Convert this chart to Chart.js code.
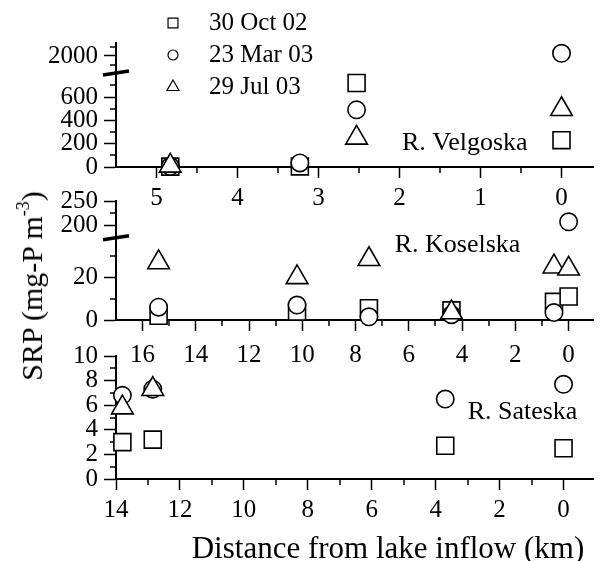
<!DOCTYPE html>
<html>
<head>
<meta charset="utf-8">
<script src="https://cdn.jsdelivr.net/npm/chart.js"></script>
<style>
  html, body { margin: 0; padding: 0; background: #fff; }
  #fig { position: relative; width: 608px; height: 561px; font-family: 'Liberation Serif', 'Times New Roman', serif; color: #000; }
  #fig canvas { position: absolute; left: 0; }
  .axis-title { position: absolute; white-space: nowrap; line-height: 1; }
  #ytitle { left: 32px; top: 286px; font-size: 30px; transform: translate(-50%, -50%) rotate(-90deg); }
  #xtitle { left: 388px; top: 547px; font-size: 31px; transform: translate(-50%, -50%); }
  sup { font-size: 60%; vertical-align: 0.7em; line-height: 0; }
</style>
</head>
<body>
<div id="fig">
  <canvas id="velgoska" width="608" height="215" style="top:0"></canvas>
  <canvas id="koselska" width="608" height="190" style="top:180px"></canvas>
  <canvas id="sateska" width="608" height="226" style="top:335px"></canvas>
  <div class="axis-title" id="ytitle">SRP (mg-P m<sup>-3</sup>)</div>
  <div class="axis-title" id="xtitle">Distance from lake inflow (km)</div>
</div>
<script>
const seriesNames = ['30 Oct 02', '23 Mar 03', '29 Jul 03'];

// R. Velgoska
const velgoskaKm = [4.83, 3.23, 2.53, 0];
const velgoskaOct = [3, 5, 720, 230];
const velgoskaMar = [6, 35, 490, 2030];
const velgoskaJul = [10, null, 250, 495];
const velgoskaXTicks = [5, 4, 3, 2, 1, 0];
const velgoskaXMinor = [4.5, 3.5, 2.5, 1.5, 0.5];
const velgoskaLowTicks = [0, 200, 400, 600];
const velgoskaLowMinor = [100, 300, 500, 700];
const velgoskaHighTicks = [2000];
const velgoskaHighMinor = [1900, 2100];

// R. Koselska
const koselskaKm = [15.4, 10.2, 7.5, 4.4, 0.55, 0];
const koselskaOct = [2, 4, 5.5, 4.5, 8.5, 11];
const koselskaMar = [6, 7, 1.5, 2.5, 3.5, 208];
const koselskaJul = [27, 20, 28.5, 3.5, 25, 24];
const koselskaXTicks = [16, 14, 12, 10, 8, 6, 4, 2, 0];
const koselskaXMinor = [15, 13, 11, 9, 7, 5, 3, 1];
const koselskaLowTicks = [0, 20];
const koselskaLowMinor = [10, 30];
const koselskaHighTicks = [200, 250];
const koselskaHighMinor = [225];

// R. Sateska
const sateskaKm = [13.8, 12.85, 3.7, 0];
const sateskaOct = [3.0, 3.2, 2.7, 2.5];
const sateskaMar = [6.8, 7.3, 6.5, 7.7];
const sateskaJul = [5.8, 7.3, null, null];
const sateskaXTicks = [14, 12, 10, 8, 6, 4, 2, 0];
const sateskaXMinor = [13, 11, 9, 7, 5, 3, 1];
const sateskaYTicks = [0, 2, 4, 6, 8, 10];
const sateskaYMinor = [1, 3, 5, 7, 9];

const FONT = "'Liberation Serif', 'Times New Roman', serif";
const AXIS_LEFT = 116;
const markerStyles = ['rect', 'circle', 'triangle'];
const markerRadii = [12, 8.7, 12.5];

Chart.defaults.font.family = FONT;
Chart.defaults.color = '#000';

// short unlabelled ticks between the numbered ones
const minorTicks = {
  id: 'minorTicks',
  beforeDatasetsDraw(chart, args, opts) {
    const ctx = chart.ctx;
    ctx.save();
    ctx.strokeStyle = '#000';
    ctx.lineWidth = 1.5;
    Object.keys(opts.values || {}).forEach(id => {
      const s = chart.scales[id];
      opts.values[id].forEach(v => {
        const p = Math.round(s.getPixelForValue(v));
        ctx.beginPath();
        if (s.isHorizontal()) {
          ctx.moveTo(p, s.top);
          ctx.lineTo(p, s.top + 6);
        } else {
          ctx.moveTo(s.right, p);
          ctx.lineTo(s.right - 6, p);
        }
        ctx.stroke();
      });
    });
    ctx.restore();
  }
};

// thick slash where the y axis is broken
const axisBreak = {
  id: 'axisBreak',
  afterDatasetsDraw(chart, args, opts) {
    if (!opts.axis) return;
    const s = chart.scales[opts.axis];
    const ctx = chart.ctx;
    ctx.save();
    ctx.strokeStyle = '#000';
    ctx.lineWidth = 3.5;
    ctx.beginPath();
    ctx.moveTo(s.right - 13, s.top + 2);
    ctx.lineTo(s.right + 13, s.top - 2);
    ctx.stroke();
    ctx.restore();
  }
};

// river name written inside the panel
const riverName = {
  id: 'riverName',
  afterDatasetsDraw(chart, args, opts) {
    if (!opts.text) return;
    const ctx = chart.ctx;
    ctx.save();
    ctx.font = '26px ' + FONT;
    ctx.fillStyle = '#000';
    ctx.textAlign = 'left';
    ctx.textBaseline = 'middle';
    ctx.fillText(opts.text, chart.scales.x.getPixelForValue(opts.x), chart.scales[opts.axis].getPixelForValue(opts.y));
    ctx.restore();
  }
};

// symbol key in the top panel
const dateKey = {
  id: 'dateKey',
  afterDraw(chart, args, opts) {
    if (!opts.show) return;
    const ctx = chart.ctx;
    ctx.save();
    ctx.font = '25px ' + FONT;
    ctx.textAlign = 'left';
    ctx.textBaseline = 'middle';
    seriesNames.forEach((name, i) => {
      const y = opts.y + i * opts.gap;
      ctx.fillStyle = '#fff';
      ctx.strokeStyle = '#000';
      ctx.lineWidth = 1.2;
      Chart.helpers.drawPoint(ctx, { pointStyle: markerStyles[i], radius: opts.radii[i], borderWidth: 1.2, rotation: 0 }, opts.x, y);
      ctx.fillStyle = '#000';
      ctx.fillText(name, opts.textX, y);
    });
    ctx.restore();
  }
};

function makeDatasets(km, series, breakAt) {
  const sets = [];
  series.forEach((values, i) => {
    const lo = [], hi = [];
    values.forEach((v, j) => {
      if (v === null) return;
      (breakAt !== undefined && v > breakAt ? hi : lo).push({ x: km[j], y: v });
    });
    const style = {
      label: seriesNames[i],
      pointStyle: markerStyles[i],
      pointRadius: markerRadii[i],
      pointHoverRadius: markerRadii[i],
      pointBorderWidth: 1.6,
      pointBorderColor: '#000',
      pointBackgroundColor: '#fff',
      order: 3 - i,
      clip: false,
    };
    sets.push({ ...style, data: lo, yAxisID: 'yLo' });
    if (hi.length) sets.push({ ...style, data: hi, yAxisID: 'yHi' });
  });
  return sets;
}

function tickFont() {
  return { family: FONT, size: 25 };
}

function xAxis(min, max, major, height, pad) {
  return {
    type: 'linear', reverse: true, min, max,
    afterBuildTicks: s => { s.ticks = major.map(v => ({ value: v })); },
    afterFit: s => { s.height = height; },
    grid: { drawOnChartArea: false, tickLength: 11, tickWidth: 1.5, tickColor: '#000' },
    border: { color: '#000', width: 2 },
    ticks: { color: '#000', font: tickFont(), padding: pad, maxRotation: 0, autoSkip: false, callback: v => String(v) },
  };
}

function yAxis(min, max, major, stackWeight, weight) {
  return {
    type: 'linear', position: 'left', min, max,
    stack: stackWeight ? 'srp' : undefined, stackWeight: stackWeight || 1, weight: weight || 0,
    afterBuildTicks: s => { s.ticks = major.map(v => ({ value: v })); },
    afterFit: s => { s.width = AXIS_LEFT; },
    grid: { drawOnChartArea: false, tickLength: 12, tickWidth: 1.5, tickColor: '#000' },
    border: { color: '#000', width: 2 },
    ticks: { color: '#000', font: tickFont(), padding: 6, autoSkip: false, callback: v => String(v) },
  };
}

function baseOptions(padTop, scales, extra) {
  return {
    responsive: false,
    animation: false,
    layout: { padding: { top: padTop, right: 2, left: 0, bottom: 0 } },
    scales,
    plugins: Object.assign({ legend: { display: false }, tooltip: { enabled: false } }, extra),
  };
}

new Chart(document.getElementById('velgoska'), {
  type: 'scatter',
  data: { datasets: makeDatasets(velgoskaKm, [velgoskaOct, velgoskaMar, velgoskaJul], 806) },
  options: baseOptions(43, {
    x: xAxis(-0.4, 5.5, velgoskaXTicks, 48, 5),
    yHi: yAxis(1810, 2145, velgoskaHighTicks, 30, 1),
    yLo: yAxis(0, 806, velgoskaLowTicks, 94, 0),
  }, {
    minorTicks: { values: { x: velgoskaXMinor, yLo: velgoskaLowMinor, yHi: velgoskaHighMinor } },
    axisBreak: { axis: 'yLo' },
    riverName: { text: 'R. Velgoska', x: 1.97, y: 205, axis: 'yLo' },
    dateKey: { show: true, x: 173, textX: 209, y: 23, gap: 32, radii: [7, 5, 7] },
  }),
  plugins: [minorTicks, axisBreak, riverName, dateKey],
});

new Chart(document.getElementById('koselska'), {
  type: 'scatter',
  data: { datasets: makeDatasets(koselskaKm, [koselskaOct, koselskaMar, koselskaJul], 38.6) },
  options: baseOptions(20, {
    x: xAxis(-0.95, 17, koselskaXTicks, 50, 9),
    yHi: yAxis(176, 250, koselskaHighTicks, 37, 1),
    yLo: yAxis(0, 38.6, koselskaLowTicks, 83, 0),
  }, {
    minorTicks: { values: { x: koselskaXMinor, yLo: koselskaLowMinor, yHi: koselskaHighMinor } },
    axisBreak: { axis: 'yLo' },
    riverName: { text: 'R. Koselska', x: 6.53, y: 35, axis: 'yLo' },
  }),
  plugins: [minorTicks, axisBreak, riverName],
});

new Chart(document.getElementById('sateska'), {
  type: 'scatter',
  data: { datasets: makeDatasets(sateskaKm, [sateskaOct, sateskaMar, sateskaJul]) },
  options: baseOptions(20, {
    x: xAxis(-0.95, 14, sateskaXTicks, 82, 5),
    yLo: yAxis(0, 10, sateskaYTicks),
  }, {
    minorTicks: { values: { x: sateskaXMinor, yLo: sateskaYMinor } },
    riverName: { text: 'R. Sateska', x: 3.0, y: 5.4, axis: 'yLo' },
  }),
  plugins: [minorTicks, axisBreak, riverName],
});
</script>
</body>
</html>
